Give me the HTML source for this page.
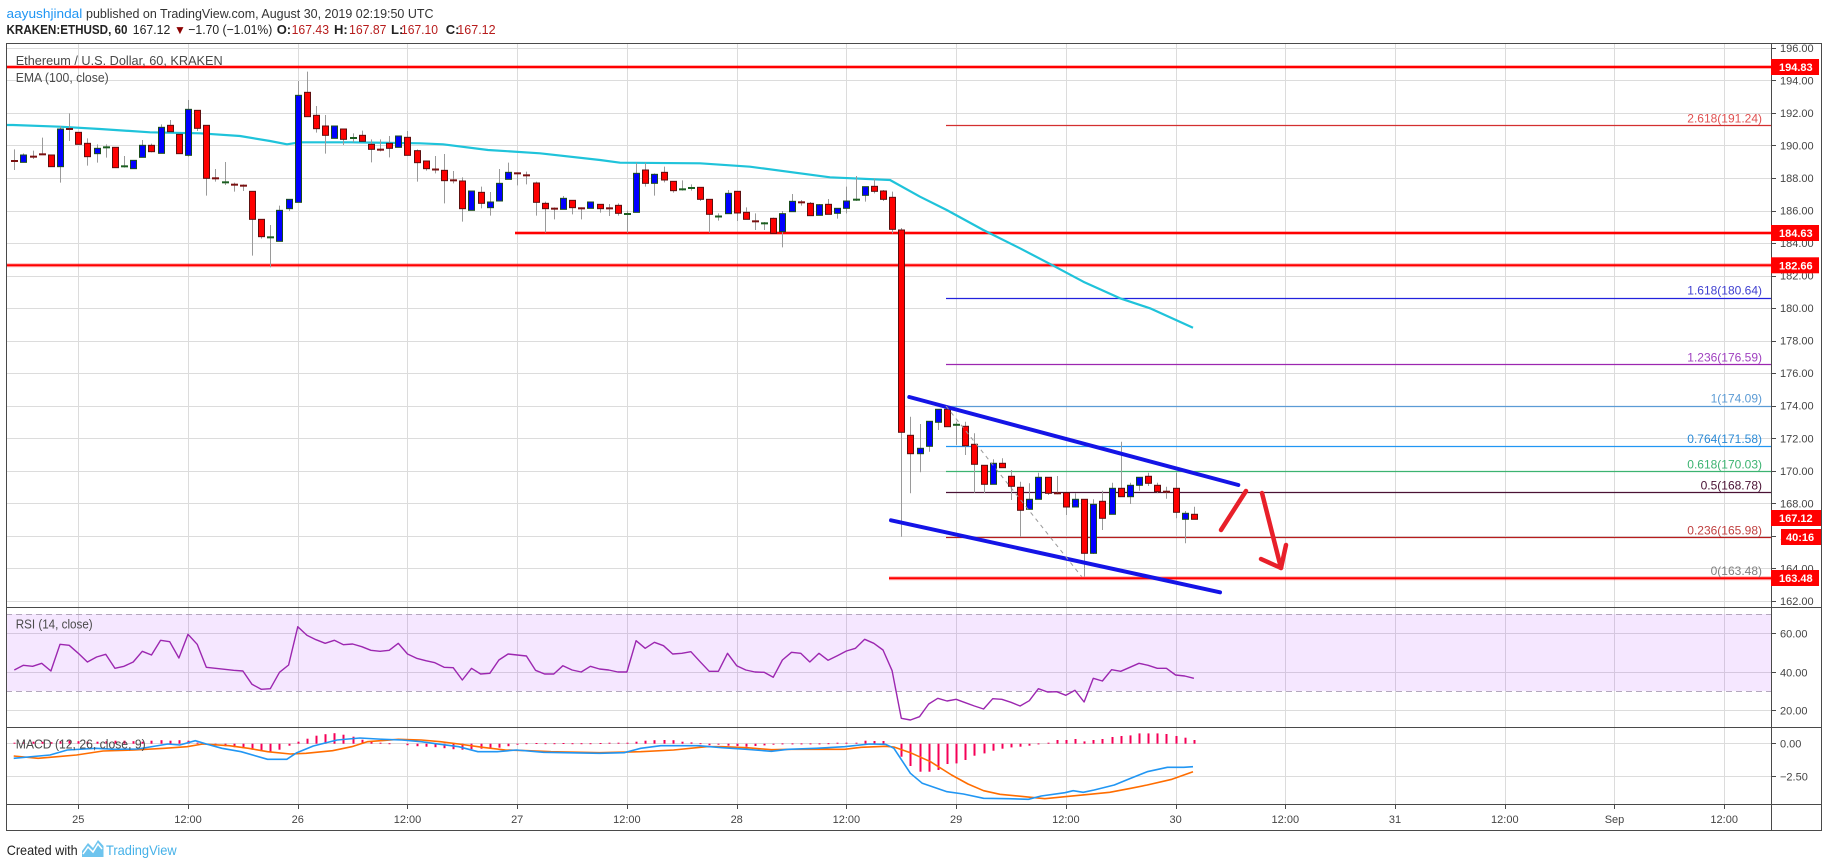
<!DOCTYPE html>
<html><head><meta charset="utf-8">
<style>
html,body{margin:0;padding:0;background:#fff;}
svg{display:block;font-family:"Liberation Sans",Arial,sans-serif;}
</style></head>
<body>
<svg id="c" xmlns="http://www.w3.org/2000/svg" width="1828" height="868" viewBox="0 0 1828 868">
<rect width="1828" height="868" fill="#fff"/>
<g id="grid"></g>
<g id="draw"></g>
<g id="frame"></g>

<!-- header -->
<text x="6.5" y="18" font-size="13" fill="#2196f3" textLength="75.8" lengthAdjust="spacingAndGlyphs">aayushjindal</text>
<text x="86" y="18" font-size="13" fill="#333" textLength="347.5" lengthAdjust="spacingAndGlyphs">published on TradingView.com, August 30, 2019 02:19:50 UTC</text>
<text x="6.5" y="34" font-size="13" font-weight="bold" fill="#222" textLength="121" lengthAdjust="spacingAndGlyphs">KRAKEN:ETHUSD, 60</text>
<text x="132.8" y="34" font-size="13" fill="#222" textLength="37.5" lengthAdjust="spacingAndGlyphs">167.12</text>
<text x="174" y="34" font-size="12" fill="#8b0000">▼</text>
<text x="188.3" y="34" font-size="13" fill="#222" textLength="84" lengthAdjust="spacingAndGlyphs">−1.70 (−1.01%)</text>
<text x="276.7" y="34" font-size="13" font-weight="bold" fill="#222">O:</text>
<text x="291.6" y="34" font-size="13" fill="#b71c1c" textLength="37.4" lengthAdjust="spacingAndGlyphs">167.43</text>
<text x="334" y="34" font-size="13" font-weight="bold" fill="#222">H:</text>
<text x="349" y="34" font-size="13" fill="#b71c1c" textLength="37.5" lengthAdjust="spacingAndGlyphs">167.87</text>
<text x="391" y="34" font-size="13" font-weight="bold" fill="#222">L:</text>
<text x="401" y="34" font-size="13" fill="#b71c1c" textLength="37" lengthAdjust="spacingAndGlyphs">167.10</text>
<text x="445.8" y="34" font-size="13" font-weight="bold" fill="#222">C:</text>
<text x="457.3" y="34" font-size="13" fill="#b71c1c" textLength="38.3" lengthAdjust="spacingAndGlyphs">167.12</text>

<!-- legends -->
<text x="15.7" y="64.8" font-size="13" fill="#4a4a4a" textLength="207" lengthAdjust="spacingAndGlyphs">Ethereum / U.S. Dollar, 60, KRAKEN</text>
<text x="15.7" y="82" font-size="13" fill="#4a4a4a" textLength="93" lengthAdjust="spacingAndGlyphs">EMA (100, close)</text>
<text x="15.7" y="628.5" font-size="13" fill="#4a4a4a" textLength="77" lengthAdjust="spacingAndGlyphs">RSI (14, close)</text>
<text x="15.7" y="748.5" font-size="13" fill="#4a4a4a" textLength="130" lengthAdjust="spacingAndGlyphs">MACD (12, 26, close, 9)</text>

<!-- fib labels -->
<g font-size="12" text-anchor="end">
<text x="1762" y="122.3" fill="#e05050">2.618(191.24)</text>
<text x="1762" y="294.7" fill="#3f3fd0">1.618(180.64)</text>
<text x="1762" y="361.3" fill="#a040c0">1.236(176.59)</text>
<text x="1762" y="402.7" fill="#5b9bd5">1(174.09)</text>
<text x="1762" y="443" fill="#2a8ad6">0.764(171.58)</text>
<text x="1762" y="468.3" fill="#3cb371">0.618(170.03)</text>
<text x="1762" y="489.3" fill="#4a1234">0.5(168.78)</text>
<text x="1762" y="534.3" fill="#c04040">0.236(165.98)</text>
<text x="1762" y="575" fill="#808080">0(163.48)</text>
</g>

<!-- price axis labels -->
<g font-size="11" fill="#444">
<text x="1780" y="51.8">196.00</text>
<text x="1780" y="84.3">194.00</text>
<text x="1780" y="116.9">192.00</text>
<text x="1780" y="149.4">190.00</text>
<text x="1780" y="182">188.00</text>
<text x="1780" y="214.5">186.00</text>
<text x="1780" y="247">184.00</text>
<text x="1780" y="279.6">182.00</text>
<text x="1780" y="312.1">180.00</text>
<text x="1780" y="344.7">178.00</text>
<text x="1780" y="377.2">176.00</text>
<text x="1780" y="409.7">174.00</text>
<text x="1780" y="442.3">172.00</text>
<text x="1780" y="474.8">170.00</text>
<text x="1780" y="507.4">168.00</text>
<text x="1780" y="539.9">166.00</text>
<text x="1780" y="572.4">164.00</text>
<text x="1780" y="605">162.00</text>
<text x="1780" y="637.3">60.00</text>
<text x="1780" y="676.3">40.00</text>
<text x="1780" y="714.3">20.00</text>
<text x="1780" y="747.7">0.00</text>
<text x="1780" y="780.3">−2.50</text>
</g>

<!-- price boxes -->
<rect x="1771" y="59" width="48" height="16" fill="#ff0000"/>
<rect x="1771" y="225" width="48" height="16" fill="#ff0000"/>
<rect x="1771" y="257.3" width="48" height="16" fill="#ff0000"/>
<rect x="1771" y="510" width="50" height="16" fill="#ff0000"/>
<rect x="1781" y="529" width="40" height="16" fill="#ff0000"/>
<rect x="1771" y="570" width="48" height="16" fill="#ff0000"/>
<g font-size="11" font-weight="bold" fill="#fff">
<text x="1779" y="71">194.83</text>
<text x="1779" y="237">184.63</text>
<text x="1779" y="269.3">182.66</text>
<text x="1779" y="522">167.12</text>
<text x="1786" y="541">40:16</text>
<text x="1779" y="582">163.48</text>
</g>

<!-- time axis -->
<g font-size="11" fill="#444" text-anchor="middle">
<text x="78.3" y="823">25</text>
<text x="188" y="823">12:00</text>
<text x="297.8" y="823">26</text>
<text x="407.5" y="823">12:00</text>
<text x="517.2" y="823">27</text>
<text x="626.9" y="823">12:00</text>
<text x="736.7" y="823">28</text>
<text x="846.4" y="823">12:00</text>
<text x="956.1" y="823">29</text>
<text x="1065.9" y="823">12:00</text>
<text x="1175.6" y="823">30</text>
<text x="1285.3" y="823">12:00</text>
<text x="1395" y="823">31</text>
<text x="1504.8" y="823">12:00</text>
<text x="1614.5" y="823">Sep</text>
<text x="1724.2" y="823">12:00</text>
</g>

<!-- footer -->
<text x="6.7" y="855" font-size="14" fill="#222" textLength="71" lengthAdjust="spacingAndGlyphs">Created with</text>
<path d="M82,857 L82,851 L88,843 L93,848 L98,840 L103.5,846 L103.5,857 Z" fill="#6ec4ee"/>
<path d="M83,854 L88,847 L93,852 L98,844 L102,849" fill="none" stroke="#fff" stroke-width="1.5"/>
<text x="106" y="855" font-size="14" fill="#45b1e8" textLength="70.7" lengthAdjust="spacingAndGlyphs">TradingView</text>

<script>
(function(){
const NS="http://www.w3.org/2000/svg";
function X(t){return 78.3+9.144*t;}
function Y(p){return 47.8+(196-p)*16.27;}
function el(p,tag,a){const e=document.createElementNS(NS,tag);for(const k in a)e.setAttribute(k,a[k]);p.appendChild(e);return e;}
const G=document.getElementById('grid'), D=document.getElementById('draw'), F=document.getElementById('frame');
const GC='#dcdcdc';
// vertical grid
for(let t=0;t<=180;t+=12){const x=Math.round(X(t))+0.5;el(G,'line',{x1:x,y1:43,x2:x,y2:804,stroke:GC});}
// horizontal main
for(let p=196;p>=162;p-=2){const y=Math.round(Y(p))+0.5;el(G,'line',{x1:6,y1:y,x2:1771,y2:y,stroke:GC});}
// rsi / macd grid
[633.5,672.5,710.5,743.5,776.5].forEach(y=>el(G,'line',{x1:6,y1:y,x2:1771,y2:y,stroke:GC}));
// rsi band
el(G,'rect',{x:6.5,y:614,width:1764.5,height:77,fill:'#9915ff','fill-opacity':0.1});
el(G,'line',{x1:6,y1:614.5,x2:1771,y2:614.5,stroke:'#b4a8bd','stroke-dasharray':'6,4'});
el(G,'line',{x1:6,y1:691.5,x2:1771,y2:691.5,stroke:'#b4a8bd','stroke-dasharray':'6,4'});

// fib lines
const fib=[[125.3,'#d32f2f'],[297.7,'#2222dd'],[364.3,'#9c27b0'],[405.7,'#5b9bd5'],[446,'#2196f3'],[471.3,'#3cb371'],[492.3,'#4a1234'],[537.3,'#b71c1c']];
fib.forEach(f=>{const y=Math.round(f[0])+0.5;el(D,'line',{x1:946,y1:y,x2:1771,y2:y,stroke:f[1],'stroke-width':1.2});});
// red support lines
[[67,6.5],[233,515],[265.2,6.5],[578.2,889]].forEach(r=>{
 el(D,'line',{x1:r[1],y1:r[0],x2:1771,y2:r[0],stroke:'#ff0000','stroke-width':4,'stroke-opacity':0.3});
 el(D,'line',{x1:r[1],y1:r[0],x2:1771,y2:r[0],stroke:'#ff0000','stroke-width':2});
});
// EMA
const ema=[[7,125],[13,125],[60,126.7],[100,129],[150,132.3],[200,133.3],[240,136],[270,141],[287,144.3],[300,142.3],[350,142.3],[420,143.3],[443,144.3],[488,150],[540,153.3],[600,160],[620,162.7],[700,163.3],[750,166.7],[830,177.3],[890,180],[920,196.7],[946.7,210],[983.3,230],[1020,248.3],[1053.3,265.7],[1083.3,281.7],[1120,298.3],[1150,308.3],[1193,327.7]];
el(D,'polyline',{points:ema.map(p=>p.join(',')).join(' '),fill:'none',stroke:'#1fc3da','stroke-width':2.2,'stroke-linejoin':'round'});

// candles
const A=[["d",316,320,283,345],["u",300,322,295,322],["d",303,307,287,312],["d",296,300,248,300],["d",300,335,300,335],["u",222,335,213,383],["d",217,227,175,258],["d",232,268,232,268],["d",265,305,250,332],["u",280,296,268,323],["u",271,283,268,308],["d",277,338,277,338],["u",330,338,303,338],["u",316,341,316,341],["u",271,307,255,307],["d",271,290,266,292],["u",217,295,208,295],["d",211,230,195,230],["d",238,296,238,296],["u",163,301,135,305],["d",166,220,166,228],["d",211,370,211,422],["d",368,372,342,380],["u",380,384,321,390],["d",387,391,383,410],["d",390,394,388,408],["d",409,493,409,602],["d",493,545,493,551],["u",541,553,510,637],["u",466,559,452,559],["u",433,461,433,468],["u",121,442,78,442],["d",112,185,50,185],["d",181,221,153,233],["d",213,241,180,296],["u",213,250,213,250],["d",222,253,222,270],["u",246,252,235,262],["d",241,259,227,259],["d",268,283,253,322],["d",282,286,253,289],["d",265,280,243,307],["u",243,277,243,277],["d",247,301,228,301]];
const B=[["d",92,128,88,185],["d",123,146,123,152],["d",145,152,108,160],["d",151,182,102,250],["d",179,183,153,190],["d",183,266,172,305],["u",213,271,213,271],["d",217,250,200,265],["u",246,263,216,287],["u",190,243,147,243],["u",157,178,128,178],["d",157,163,157,196],["d",162,170,155,193],["d",189,247,185,287],["d",250,266,245,338],["d",264,268,262,298],["u",235,268,228,268],["d",241,263,241,283],["d",262,268,262,298],["u",246,265,246,265],["d",253,266,253,278],["d",263,267,252,288],["d",256,280,250,287],["u",280,284,272,338],["u",160,277,128,277],["d",150,190,128,200],["u",163,190,160,227],["d",157,180,140,187],["d",184,212,184,218],["u",206,210,181,212],["u",199,209,193,212],["d",202,238,202,243],["d",238,283,238,338],["u",286,293,280,302],["u",220,281,210,281],["d",214,279,214,303],["d",277,298,262,298],["d",298,310,280,330],["u",308,312,306,330],["d",295,340,293,340],["u",281,335,273,382],["u",244,275,222,275],["d",243,251,240,257],["d",250,287,246,287],["u",254,286,252,286]];
const C=[["d",253,283,237,283],["u",265,280,265,296],["u",243,265,200,280],["u",235,243,168,243],["u",200,226,200,245],["d",199,214,175,220],["d",213,238,210,243],["d",232,328,215,340]];
const Dd=[["d",230,432.3,228,536.7],["d",435.3,453.7,416.7,493.3],["u",448.3,453.7,424,472.3],["u",421.3,446.3,421.3,451.7],["u",409.3,422.3,409.3,430],["d",409.3,426.7,406.7,426.7],["u",423.3,426.3,421.7,445],["d",426.3,445.7,421.7,455],["d",444.3,464.3,433.3,492.7],["d",465.3,484.3,465.3,493.3],["u",463.3,484.3,459.3,484.3],["d",463.3,467.7,458.3,467.7],["d",476.3,486.3,470,500],["d",487.3,510.3,481.7,536.7],["u",499.3,509.3,483.3,509.3],["u",477.3,499.3,472.7,499.3],["d",477.3,493.3,477.3,495],["d",492.3,494.3,476,494.3],["d",492.7,507,492.7,515],["u",499.3,507,493.3,507],["d",499.3,553.3,499.3,576.7],["u",504.3,553.3,499.3,554],["d",501.3,518.3,490.7,530],["u",488.3,514.3,482.7,514.3],["d",488.3,496.7,441.7,496.7],["u",485.3,496.7,482.7,504],["u",477.3,485.3,477.3,490.7],["d",476.3,483.3,472.7,486],["d",485.3,491.7,482.7,493.3],["d",490.7,492.7,486.7,498.7],["d",488.3,512.3,472.7,518.3],["u",513.3,519.3,511,543.3],["d",514.3,519.3,506.7,519.3]];
const CG=el(D,'g',{});
function draw(list,t0,fn){
 list.forEach((c,i)=>{
  const t=t0+i, xc=Math.round(X(t));
  if(xc<8) return;
  const bt=fn(c[1]), bb=fn(c[2]), wt=fn(c[3]), wb=fn(c[4]);
  const up=c[0]==='u';
  el(CG,'line',{x1:xc+0.5,y1:wt,x2:xc+0.5,y2:wb,stroke:'#9a9a9a','stroke-width':1});
  const fill=up?'#0000ff':'#ff0000', st=up?'#1b4d1b':'#5c0f0f';
  if(bb-bt<=4){
   const m=(bt+bb)/2;
   el(CG,'line',{x1:xc-3,y1:m,x2:xc+4,y2:m,stroke:up?'#1b5e20':'#7a1010','stroke-width':2});
  } else {
   el(CG,'rect',{x:xc-2.5,y:bt,width:6,height:bb-bt,fill:fill,stroke:st,'stroke-width':1});
  }
 });
}
draw(A,-7,v=>55+v/3);
draw(B,37,v=>120+v/3);
draw(C,82,v=>120+v/3);
draw(Dd,90,v=>v);

// channel lines
el(D,'line',{x1:909.3,y1:397,x2:1238.3,y2:485,stroke:'#1414e6','stroke-width':4,'stroke-linecap':'round'});
el(D,'line',{x1:891,y1:520.3,x2:1220,y2:592.3,stroke:'#1414e6','stroke-width':4,'stroke-linecap':'round'});
el(D,'line',{x1:946,y1:406,x2:1081.7,y2:576.7,stroke:'#999','stroke-width':1,'stroke-dasharray':'4,4'});
// arrows
const AR={stroke:'#e8202a','stroke-width':4.5,'stroke-linecap':'round','stroke-linejoin':'round',fill:'none'};
el(D,'line',Object.assign({x1:1221,y1:530,x2:1246,y2:491},AR));
el(D,'line',Object.assign({x1:1262,y1:493,x2:1281,y2:568},AR));
el(D,'polyline',Object.assign({points:'1261,559 1281,568 1286,545'},AR));

// RSI
const r1=[210,196,199,190,213,133,136,160,186,171,163,205,199,186,154,165,121,125,174,103,133,202,205,208,211,213,253,268,266,217,195,80,106,119,130,121,134,132,140,151,154,151,130,162,175,182,188,202,203,240,205,222,220,180,162,165,168,211,222,222,197,210,216,199,207];
const r2=[210,216,216,122,145,127,137,162,160,155,185,214,214,160,197,210,216,217,232,180,157,160,186,160,181,167,153,145,118,130,150,212,355,360,350,312,295,303,298,308,318,327,296,298,307,318,302,266,276,275,286,271,306,235,243,209,214,202,190,196,205,205,225,228,235];
const rs=r1.concat(r2);
const rp=rs.map((z,i)=>{const t=-7+i;return Math.max(7,X(t)).toFixed(1)+','+(600+z/3).toFixed(1);}).join(' ');
el(D,'polyline',{points:rp,fill:'none',stroke:'#9c27b0','stroke-width':1.4,'stroke-linejoin':'round'});

// MACD histogram
const h=[1,1.5,2,2,1.5,2.5,3,2.5,2,2,2.5,3,3,2.5,2,3,3.5,3,3.5,3,1,
-1,-2,-2.5,-3.5,-4.5,-6,-7.5,-8,-6,-2,
2,5,8,9.5,10.5,9,7,4,2,
1,0.5,0,
-1.5,-2.5,-3,-3.5,-4.5,-5.5,-6,-5.5,-5,-5,-4,-2.5,
-1,0.5,0.7,0.5,0.5,0.7,0.5,0.5,0.5,0.7,1,1,1,
2,3,3.5,3.7,3.5,2,1.3,0.5,
-1.5,-1,-2,-2.3,-3,-2.3,-1.7,-1,
0.3,0.3,0.3,0.3,0.3,0.5,1,
1,1,3,2.7,2.7,0,
-13,-22.3,-28,-28,-26.3,-20.3,-19.7,-16.3,-12,-9.7,-7,-5,-3.7,-3,-2,
0.3,1,3.7,3.7,4.7,2.3,3.7,4.7,6.7,7.7,8.3,10.3,10.3,10.3,9.7,7.7,6,3.7];
const z0=743.7;
h.forEach((v,i)=>{const t=-7+i;const x=Math.round(X(t));if(x<8||Math.abs(v)<0.2)return;
 const y=v>0?z0-v:z0;el(D,'rect',{x:x-0.5,y:y,width:2,height:Math.max(1,Math.abs(v)),fill:'#f50057'});});
// MACD lines
const bl=[[-7.06,758.3],[-3.1,755],[-1.2,750],[1.9,748.3],[4,749.3],[6.5,749],[9.8,744],[11.1,745],[12.8,740.7],[14,744],[15.7,748.3],[17.8,751.7],[20.7,759.3],[22.8,759.3],[23.9,752.7],[25.7,746],[28.3,740],[30.8,738],[33.3,739.3],[35.4,740],[37.5,741.7],[39.6,744.3],[41.6,746.7],[43.7,751.7],[45.8,751.7],[47.9,750],[50.9,752.3],[57,753.3],[59.7,752.7],[61.5,748.3],[63.7,745.7],[67.8,745.7],[70.4,747.7],[73.1,749.3],[75.8,751.3],[77.6,749.3],[80.7,748.3],[83.8,746.7],[86.5,744],[88.3,744.3],[89.2,748.3],[91,773.3],[92.3,783.3],[95,791.7],[96.8,794],[99,798.3],[101.7,798.7],[103.9,799.3],[105.3,796],[107.9,792.7],[108.8,790.7],[109.9,792.3],[111.1,790],[113.3,785],[115.1,778.3],[116.9,771.7],[119.1,767.3],[120.9,767.3],[121.9,766.7]];
const orr=[[-7.06,756],[-4.4,758.3],[-2.3,756.7],[-0.2,755],[2.7,751],[6.1,750],[9.4,748.3],[11.9,746.7],[13.6,744],[16.5,745.7],[18.6,748.3],[20.7,751.7],[23.2,754],[24.9,753.3],[27.8,750.7],[29.9,746.7],[31.6,741.7],[35,739.3],[37.5,740],[39.6,741.7],[41.6,744],[44.2,747.3],[46.7,750],[49.2,750.7],[51.7,751.7],[57,752.7],[61.5,751.7],[65.1,750],[68.7,746.7],[70.4,746.7],[73.1,747.7],[75.8,749.7],[78,749.3],[83.8,749.3],[85.6,747.3],[88.3,746.3],[89.2,747],[91,752.7],[93.2,761.7],[95.5,775],[97.3,784],[99,790.7],[100.8,794.3],[103.5,796.7],[105.7,798.7],[107.9,796.7],[110.6,794.3],[112.8,792.3],[115.1,788.3],[116.9,785],[119.6,779.3],[121.9,771.7]];
function pl(a){return a.map(p=>Math.max(7,X(p[0])).toFixed(1)+','+p[1]).join(' ');}
el(D,'polyline',{points:pl(orr),fill:'none',stroke:'#ff6d00','stroke-width':1.6,'stroke-linejoin':'round'});
el(D,'polyline',{points:pl(bl),fill:'none',stroke:'#2196f3','stroke-width':1.6,'stroke-linejoin':'round'});

// frame
const FC='#4a4a4a';
[[6,43.5,1822,43.5],[6,607.5,1822,607.5],[6,727.5,1822,727.5],[6,804.5,1822,804.5],[6,830.5,1822,830.5],
 [6.5,43,6.5,831],[1771.5,43,1771.5,831],[1821.5,43,1821.5,831]].forEach(l=>el(F,'line',{x1:l[0],y1:l[1],x2:l[2],y2:l[3],stroke:FC,'stroke-width':1}));
// price ticks
for(let p=196;p>=162;p-=2){const y=Math.round(Y(p))+0.5;el(F,'line',{x1:1771,y1:y,x2:1776,y2:y,stroke:FC});}
[633.5,672.5,710.5,743.5,776.5].forEach(y=>el(F,'line',{x1:1771,y1:y,x2:1776,y2:y,stroke:FC}));
for(let t=0;t<=180;t+=12){const x=Math.round(X(t))+0.5;el(F,'line',{x1:x,y1:804,x2:x,y2:809,stroke:FC});}
})();
</script>
</svg>
</body></html>
